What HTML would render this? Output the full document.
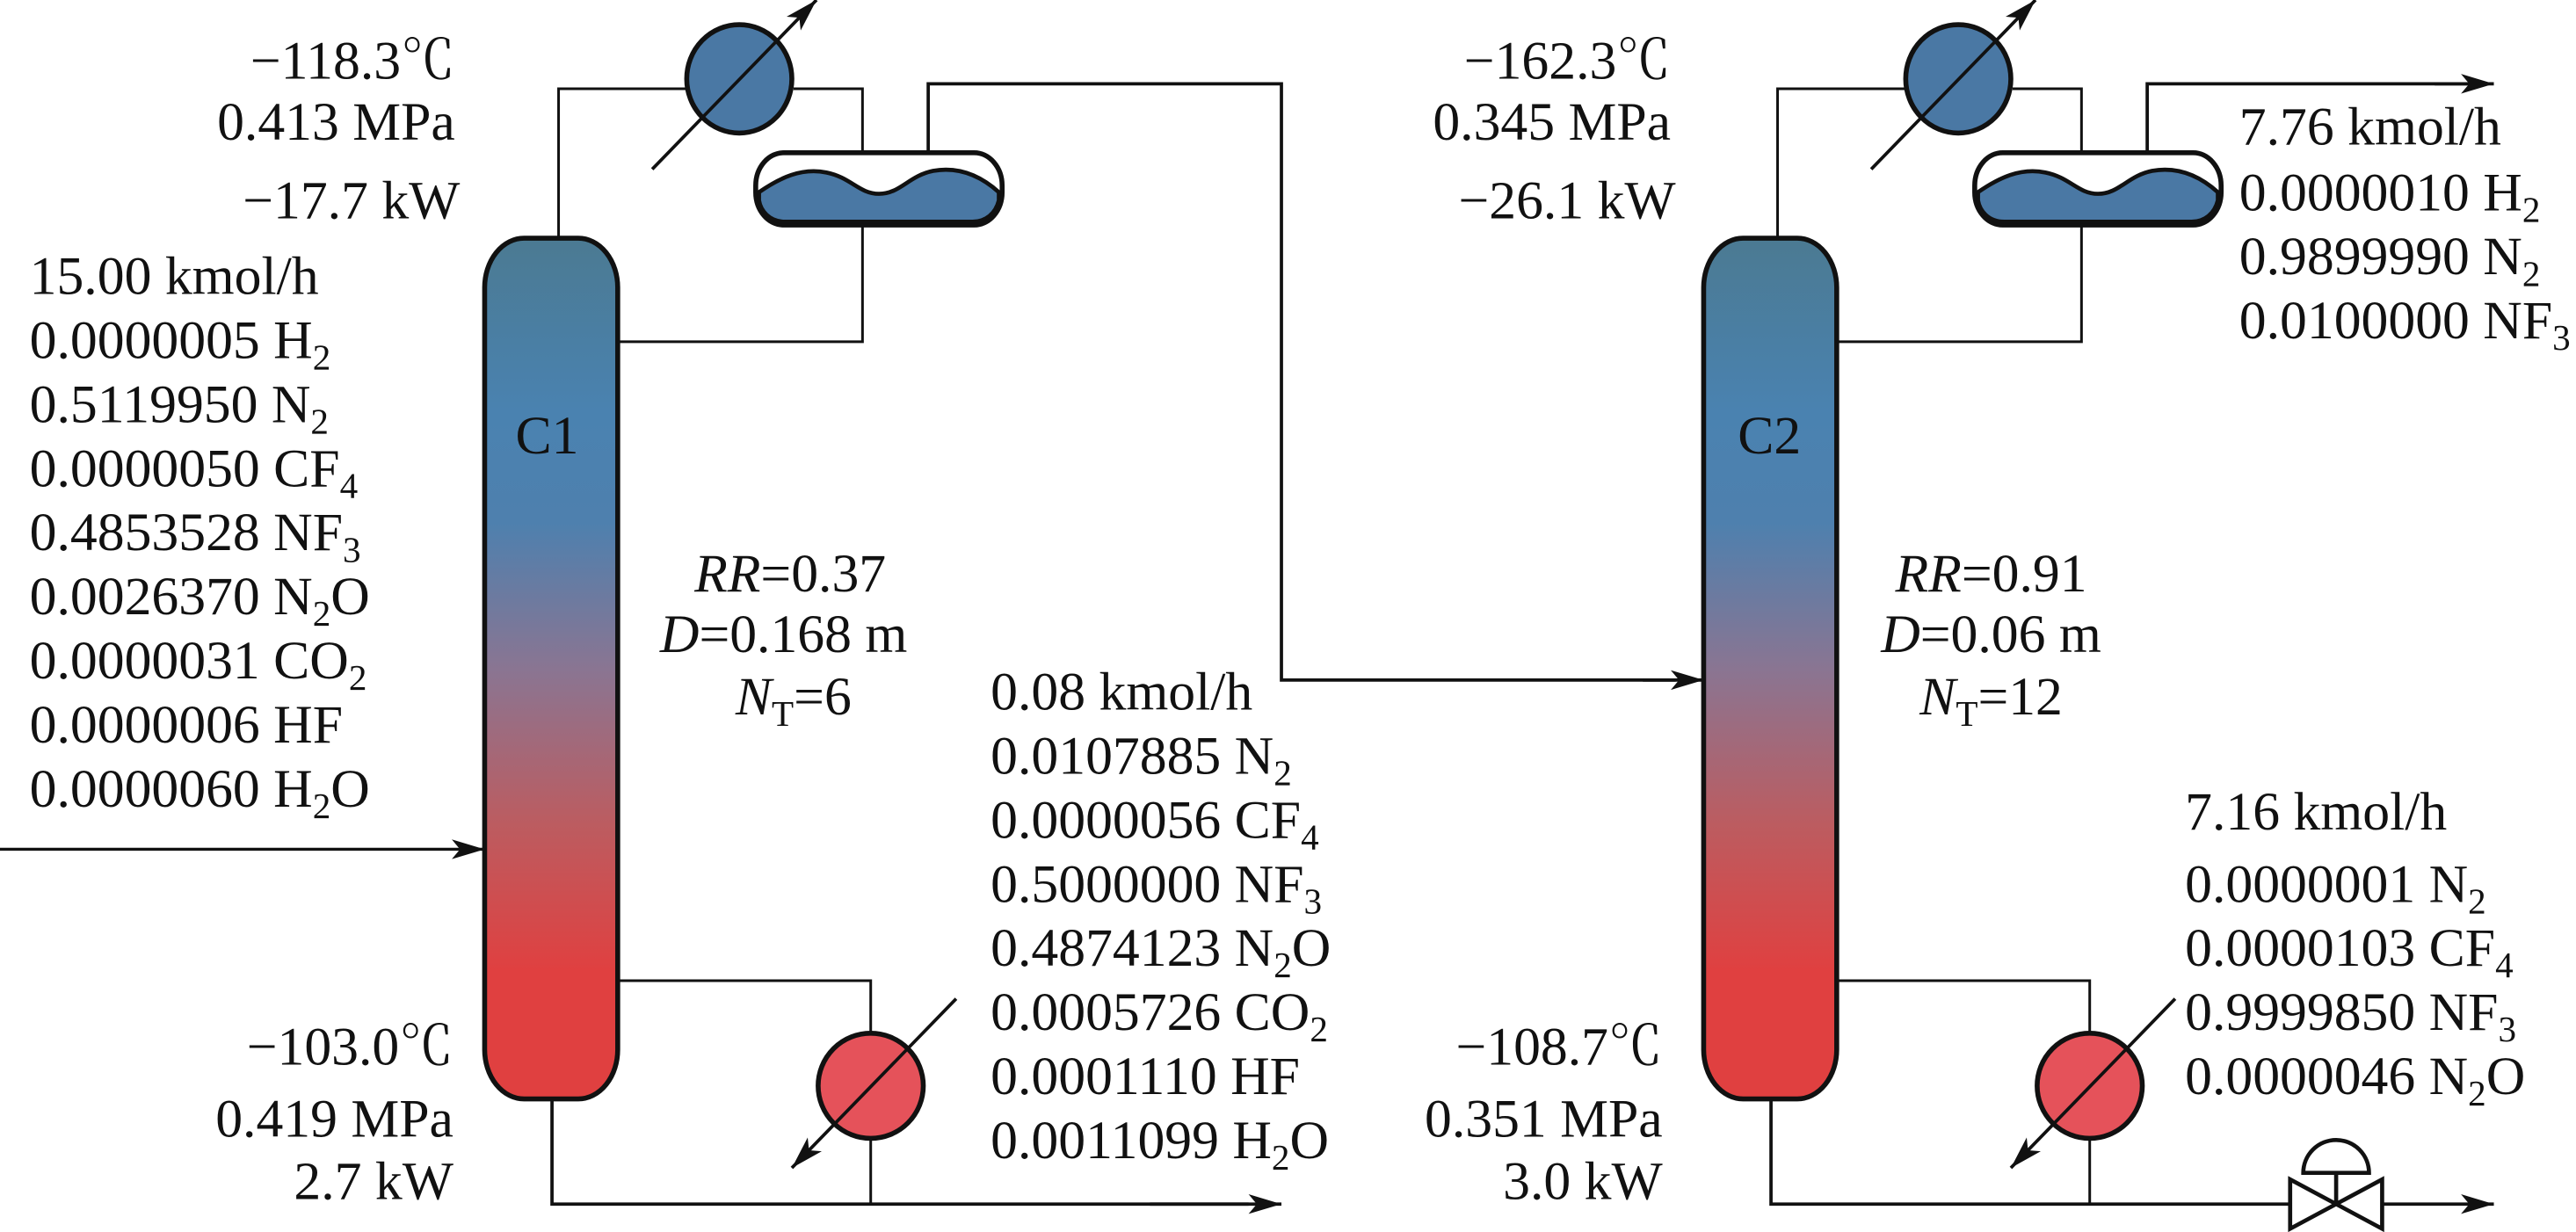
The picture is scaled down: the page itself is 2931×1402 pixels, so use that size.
<!DOCTYPE html>
<html><head><meta charset="utf-8"><style>
html,body{margin:0;padding:0;background:#fff}
svg{display:block}
text{font-family:"Liberation Serif","Noto Serif CJK SC",serif;font-size:33px;fill:#111}
.i{font-style:italic}
</style></head><body>
<svg width="2931" height="1402" viewBox="0 0 1568 750" preserveAspectRatio="none" xmlns="http://www.w3.org/2000/svg">
<defs>
<linearGradient id="g1" x1="0" y1="145" x2="0" y2="670" gradientUnits="userSpaceOnUse">
<stop offset="0" stop-color="#4b7a92"/><stop offset="0.2" stop-color="#4a82b0"/><stop offset="0.33" stop-color="#4e80ae"/>
<stop offset="0.5" stop-color="#8a7592"/><stop offset="0.68" stop-color="#bc5c60"/><stop offset="0.85" stop-color="#e04040"/><stop offset="1" stop-color="#e04040"/>
</linearGradient>
<marker id="ar" viewBox="0 0 20 12" refX="20" refY="6" markerWidth="20" markerHeight="12" markerUnits="userSpaceOnUse" orient="auto">
<path d="M0,0 L20,6 L0,12 L5,6 Z" fill="#111"/></marker>
</defs>

<g id="c1">
<rect x="295" y="145" width="81" height="524" rx="24" ry="30" fill="url(#g1)" stroke="#111" stroke-width="3"/>
<polyline points="340,145 340,54 418,54" fill="none" stroke="#111" stroke-width="1.6"/>
<polyline points="483,54 525,54 525,93" fill="none" stroke="#111" stroke-width="1.6"/>
<polyline points="525,137 525,208 376,208" fill="none" stroke="#111" stroke-width="1.6"/>
<ellipse cx="450" cy="48" rx="32" ry="33" fill="#4a78a4" stroke="#111" stroke-width="3"/>
<line x1="397" y1="103" x2="497" y2="0" stroke="#111" stroke-width="2" marker-end="url(#ar)"/>
<rect x="460" y="93" width="150" height="44" rx="17" ry="20" fill="#fff" stroke="#111" stroke-width="3"/>
<path d="M462,117 C475,108 488,102 503,105 C518,108 523,118 535,118 C548,118 553,107 568,104 C585,101 598,108 608,117 L608,122 C606,130 600,135 592,135 L478,135 C468,135 463,128 462,122 Z" fill="#4a78a4" stroke="#111" stroke-width="2.5"/>
<polyline points="376,597 530,597 530,629" fill="none" stroke="#111" stroke-width="1.6"/>
<ellipse cx="530" cy="661" rx="32" ry="32" fill="#e5525a" stroke="#111" stroke-width="3"/>
<line x1="582" y1="608" x2="482" y2="711" stroke="#111" stroke-width="2" marker-end="url(#ar)"/>
<polyline points="336,670 336,733 760,733" fill="none" stroke="#111" stroke-width="2"/>
<line x1="530" y1="693" x2="530" y2="733" stroke="#111" stroke-width="1.6"/>
<line x1="700" y1="733" x2="780" y2="733" stroke="#111" stroke-width="2" marker-end="url(#ar)"/>
</g>

<line x1="0" y1="517" x2="295" y2="517" stroke="#111" stroke-width="1.8" marker-end="url(#ar)"/>
<polyline points="565,93 565,51 780,51 780,414 1020,414" fill="none" stroke="#111" stroke-width="2"/>
<line x1="1000" y1="414" x2="1037" y2="414" stroke="#111" stroke-width="2" marker-end="url(#ar)"/>

<g transform="translate(742,0)">
<rect x="295" y="145" width="81" height="524" rx="24" ry="30" fill="url(#g1)" stroke="#111" stroke-width="3"/>
<polyline points="340,145 340,54 418,54" fill="none" stroke="#111" stroke-width="1.6"/>
<polyline points="483,54 525,54 525,93" fill="none" stroke="#111" stroke-width="1.6"/>
<polyline points="525,137 525,208 376,208" fill="none" stroke="#111" stroke-width="1.6"/>
<ellipse cx="450" cy="48" rx="32" ry="33" fill="#4a78a4" stroke="#111" stroke-width="3"/>
<line x1="397" y1="103" x2="497" y2="0" stroke="#111" stroke-width="2" marker-end="url(#ar)"/>
<rect x="460" y="93" width="150" height="44" rx="17" ry="20" fill="#fff" stroke="#111" stroke-width="3"/>
<path d="M462,117 C475,108 488,102 503,105 C518,108 523,118 535,118 C548,118 553,107 568,104 C585,101 598,108 608,117 L608,122 C606,130 600,135 592,135 L478,135 C468,135 463,128 462,122 Z" fill="#4a78a4" stroke="#111" stroke-width="2.5"/>
<polyline points="565,93 565,51 760,51" fill="none" stroke="#111" stroke-width="2"/>
<line x1="740" y1="51" x2="776" y2="51" stroke="#111" stroke-width="2" marker-end="url(#ar)"/>
<polyline points="376,597 530,597 530,629" fill="none" stroke="#111" stroke-width="1.6"/>
<ellipse cx="530" cy="661" rx="32" ry="32" fill="#e5525a" stroke="#111" stroke-width="3"/>
<line x1="582" y1="608" x2="482" y2="711" stroke="#111" stroke-width="2" marker-end="url(#ar)"/>
<polyline points="336,670 336,733 652,733" fill="none" stroke="#111" stroke-width="2"/>
<line x1="530" y1="693" x2="530" y2="733" stroke="#111" stroke-width="1.6"/>
<path d="M652,718 L652,748 L708,718 L708,748 Z" fill="#fff" stroke="#111" stroke-width="2.5" stroke-linejoin="miter"/>
<line x1="680" y1="733" x2="680" y2="714" stroke="#111" stroke-width="2.5"/>
<path d="M660,714 A20,20 0 0 1 700,714 Z" fill="#fff" stroke="#111" stroke-width="2.5"/>
<line x1="708" y1="733" x2="776" y2="733" stroke="#111" stroke-width="2" marker-end="url(#ar)"/>
</g>

<text x="333" y="276" text-anchor="middle">C1</text>
<text x="1077" y="276" text-anchor="middle">C2</text>

<g text-anchor="end">
<text x="277" y="48">−118.3℃</text>
<text x="277" y="85">0.413 MPa</text>
<text x="280" y="133">−17.7 kW</text>
<text x="276" y="648">−103.0℃</text>
<text x="276" y="692">0.419 MPa</text>
<text x="276" y="730">2.7 kW</text>
<text x="1017" y="48">−162.3℃</text>
<text x="1017" y="85">0.345 MPa</text>
<text x="1020" y="133">−26.1 kW</text>
<text x="1012" y="648">−108.7℃</text>
<text x="1012" y="692">0.351 MPa</text>
<text x="1012" y="730">3.0 kW</text>
</g>

<g text-anchor="middle">
<text x="481" y="360"><tspan class="i">RR</tspan>=0.37</text>
<text x="477" y="397"><tspan class="i">D</tspan>=0.168 m</text>
<text x="483" y="435"><tspan class="i">N</tspan><tspan font-size="22" dy="7">T</tspan><tspan dy="-7">=6</tspan></text>
<text x="1212" y="360"><tspan class="i">RR</tspan>=0.91</text>
<text x="1212" y="397"><tspan class="i">D</tspan>=0.06 m</text>
<text x="1212" y="435"><tspan class="i">N</tspan><tspan font-size="22" dy="7">T</tspan><tspan dy="-7">=12</tspan></text>
</g>

<text x="18" y="179">15.00 kmol/h</text>
<text x="18" y="218">0.0000005 H<tspan font-size="22" dy="7">2</tspan></text>
<text x="18" y="257">0.5119950 N<tspan font-size="22" dy="7">2</tspan></text>
<text x="18" y="296">0.0000050 CF<tspan font-size="22" dy="7">4</tspan></text>
<text x="18" y="335">0.4853528 NF<tspan font-size="22" dy="7">3</tspan></text>
<text x="18" y="374">0.0026370 N<tspan font-size="22" dy="7">2</tspan><tspan dy="-7">O</tspan></text>
<text x="18" y="413">0.0000031 CO<tspan font-size="22" dy="7">2</tspan></text>
<text x="18" y="452">0.0000006 HF</text>
<text x="18" y="491">0.0000060 H<tspan font-size="22" dy="7">2</tspan><tspan dy="-7">O</tspan></text>

<text x="603" y="432">0.08 kmol/h</text>
<text x="603" y="471">0.0107885 N<tspan font-size="22" dy="7">2</tspan></text>
<text x="603" y="510">0.0000056 CF<tspan font-size="22" dy="7">4</tspan></text>
<text x="603" y="549">0.5000000 NF<tspan font-size="22" dy="7">3</tspan></text>
<text x="603" y="588">0.4874123 N<tspan font-size="22" dy="7">2</tspan><tspan dy="-7">O</tspan></text>
<text x="603" y="627">0.0005726 CO<tspan font-size="22" dy="7">2</tspan></text>
<text x="603" y="666">0.0001110 HF</text>
<text x="603" y="705">0.0011099 H<tspan font-size="22" dy="7">2</tspan><tspan dy="-7">O</tspan></text>

<text x="1363" y="88">7.76 kmol/h</text>
<text x="1363" y="128">0.0000010 H<tspan font-size="22" dy="7">2</tspan></text>
<text x="1363" y="167">0.9899990 N<tspan font-size="22" dy="7">2</tspan></text>
<text x="1363" y="206">0.0100000 NF<tspan font-size="22" dy="7">3</tspan></text>

<text x="1330" y="505">7.16 kmol/h</text>
<text x="1330" y="549">0.0000001 N<tspan font-size="22" dy="7">2</tspan></text>
<text x="1330" y="588">0.0000103 CF<tspan font-size="22" dy="7">4</tspan></text>
<text x="1330" y="627">0.9999850 NF<tspan font-size="22" dy="7">3</tspan></text>
<text x="1330" y="666">0.0000046 N<tspan font-size="22" dy="7">2</tspan><tspan dy="-7">O</tspan></text>
</svg>
</body></html>
